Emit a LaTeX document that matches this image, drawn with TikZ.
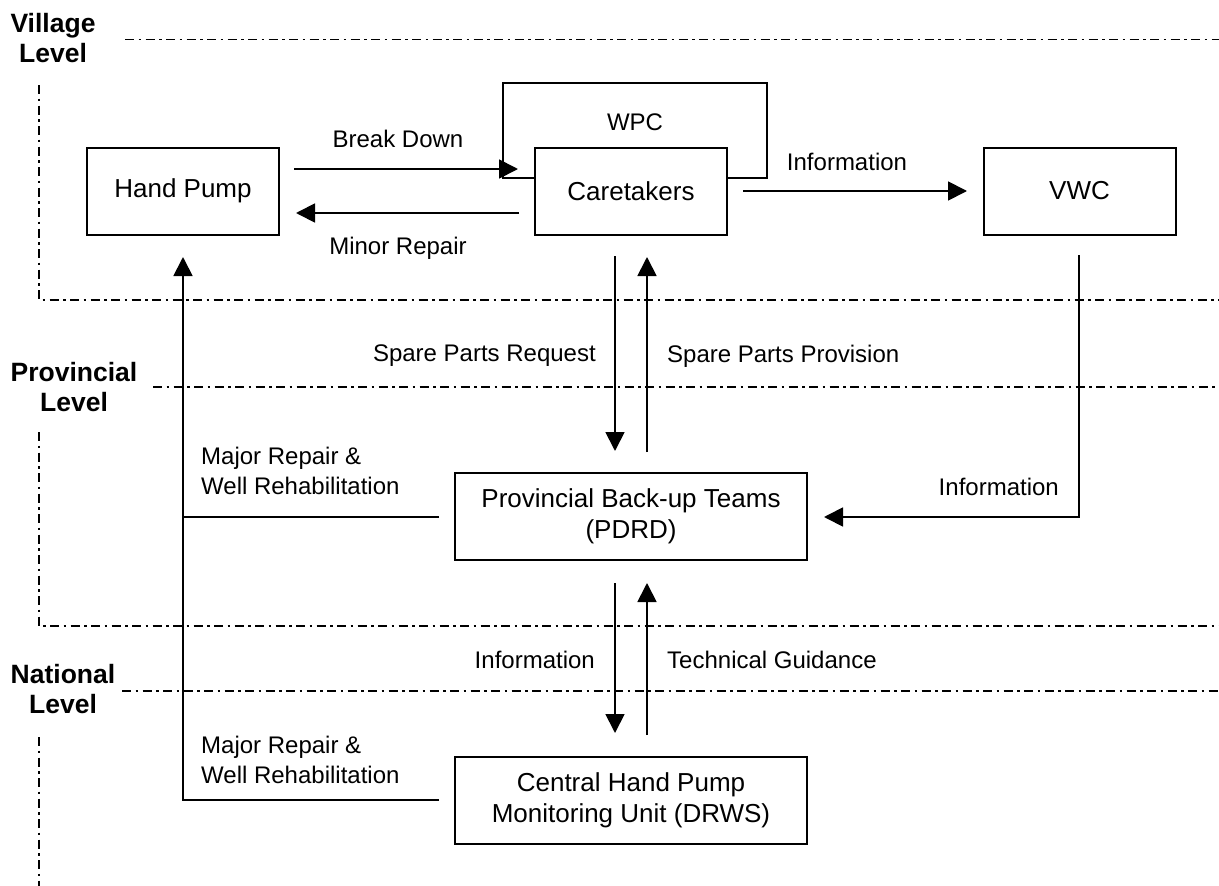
\documentclass[tikz,border=0pt]{standalone}
\usepackage{fontspec}
\setmainfont{Liberation Sans}
\usetikzlibrary{arrows.meta,calc}
\begin{document}
\begin{tikzpicture}[x=1pt,y=-1pt,
 box/.style={draw,line width=2pt,minimum width=192pt,minimum height=87pt,inner sep=0pt,align=center,font=\fontsize{26}{31}\selectfont},
 wbox/.style={box,minimum width=352pt},
 lbl/.style={font=\fontsize{24}{30}\selectfont,inner sep=0pt,align=left},
 lvl/.style={font=\bfseries\fontsize{26.5}{30}\selectfont,align=center,inner sep=0pt},
 conn/.style={line width=1.8pt},
 arr/.style={conn,-{Triangle[length=19pt,width=19pt]}},
 sep/.style={line width=1.8pt,dash pattern=on 9pt off 4.5pt on 2.5pt off 4.5pt}]
\fill[white] (0,0) rectangle (1219,886);
\useasboundingbox (0,0) rectangle (1219,886);

% level separators
\draw[sep] (125,39.5) -- (1219,39.5);
\draw[sep] (39,85) -- (39,300) -- (1219,300);
\draw[sep] (153,387) -- (1219,387);
\draw[sep] (39,432) -- (39,626) -- (1219,626);
\draw[sep] (122,691) -- (1219,691);
\draw[sep] (39,737) -- (39,886);

\node[lvl] (lv1) at (53,38) {Village\\Level};
\node[lvl] (lv2) at (74,387) {Provincial\\Level};
\node[lvl] (lv3) at (63,689) {National\\Level};

% boxes
\node[box] (hp) at (183,191) {Hand Pump};
\node[box] (ct) at (631,191) {Caretakers};
\node[box] (vwc) at (1079.5,191) {VWC};
\node[wbox] (pb) at (631,516.5) {Provincial Back-up Teams\\(PDRD)};
\node[wbox] (cu) at (631,800) {Central Hand Pump\\Monitoring Unit (DRWS)};

% WPC loop
\coordinate (wl) at (503,83);
\coordinate (wr) at (767,178);
\draw[conn] ($(ct.west)+(0,-13)$) -| (wl) -| (wr) -- ($(ct.east)+(0,-13)$);
\node[lbl] (wpc) at (635,122) {WPC};

% village level arrows
\coordinate (bd1) at (294,169);
\coordinate (bd2) at (518,169);
\draw[arr] (bd1) -- (bd2);
\node[lbl] (lbd) at (398,139) {Break Down};
\coordinate (mr1) at (519,213);
\coordinate (mr2) at (296,213);
\draw[arr] (mr1) -- (mr2);
\node[lbl] (lmr) at (398,248) {Minor Repair};
\coordinate (in1) at (743,191);
\coordinate (in2) at (967,191);
\draw[arr] (in1) -- (in2);
\node[lbl] (lin1) at (847,162) {Information};

% caretakers <-> provincial
\coordinate (sr1) at (615,256);
\coordinate (sr2) at (615,451);
\draw[arr] (sr1) -- (sr2);
\coordinate (sp1) at (647,452);
\coordinate (sp2) at (647,257);
\draw[arr] (sp1) -- (sp2);
\node[lbl,anchor=east] (lsr) at (596,356) {Spare Parts Request};
\node[lbl,anchor=west] (lsp) at (667,356) {Spare Parts Provision};

% VWC -> provincial
\coordinate (vw1) at (1079,255);
\coordinate (vw2) at (1079,517);
\coordinate (vw3) at (824,517);
\draw[arr] (vw1) -- (vw2) -- (vw3);
\node[lbl,anchor=east] (lin2) at (1059,487) {Information};

% provincial <-> national
\coordinate (ni1) at (615,583);
\coordinate (ni2) at (615,733);
\draw[arr] (ni1) -- (ni2);
\coordinate (tg1) at (647,735);
\coordinate (tg2) at (647,583);
\draw[arr] (tg1) -- (tg2);
\node[lbl,anchor=east] (lin3) at (595,660) {Information};
\node[lbl,anchor=west] (ltg) at (667,660) {Technical Guidance};

% major repair to hand pump
\coordinate (mj1) at (439,800);
\coordinate (mj2) at (183,800);
\coordinate (mj3) at (183,257);
\draw[arr] (mj1) -- (mj2) -- (mj3);
\coordinate (mp1) at (439,517);
\coordinate (mp2) at (183,517);
\draw[conn] (mp1) -- (mp2);
\node[lbl,anchor=west] (lmj1) at (201,471) {Major Repair \&\\Well Rehabilitation};
\node[lbl,anchor=west] (lmj2) at (201,760) {Major Repair \&\\Well Rehabilitation};
\end{tikzpicture}
\end{document}
